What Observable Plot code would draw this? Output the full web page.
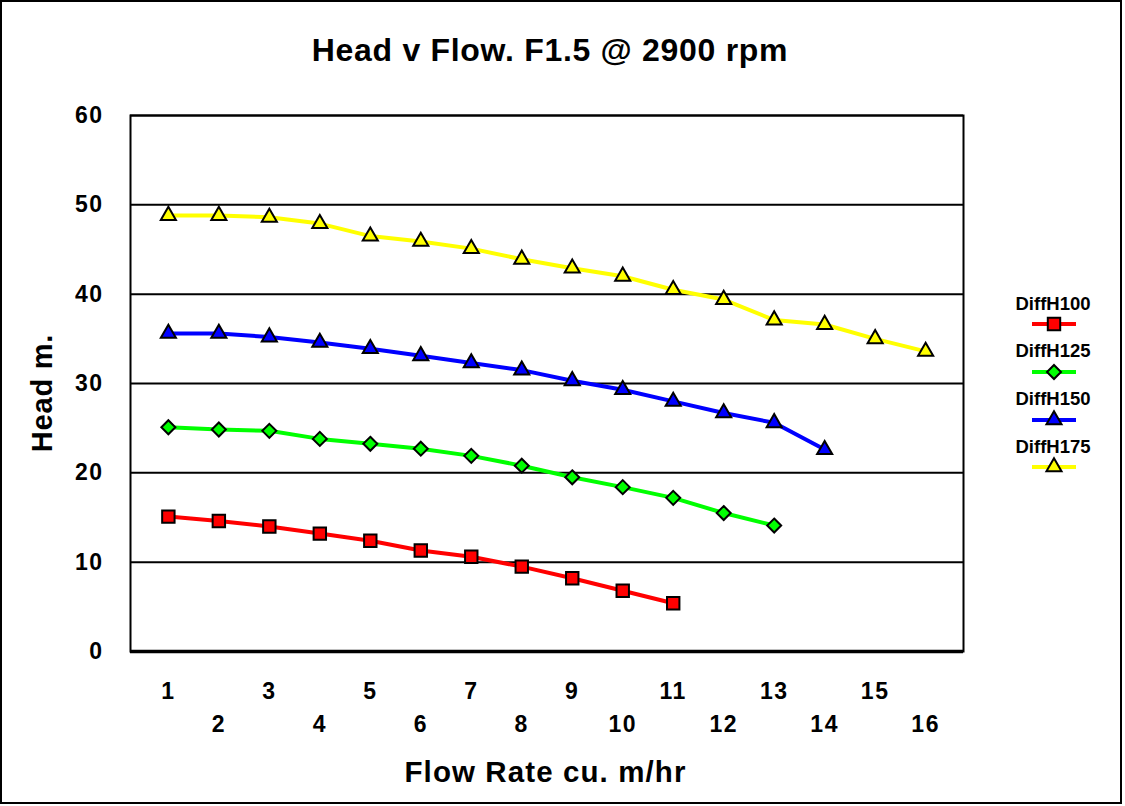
<!DOCTYPE html>
<html>
<head>
<meta charset="utf-8">
<script src="https://cdn.jsdelivr.net/npm/d3@7"></script>
<script src="https://cdn.jsdelivr.net/npm/@observablehq/plot@0.6"></script>
<style>
  html, body { margin: 0; padding: 0; background: #fff; }
  #wrap { position: relative; width: 1125px; height: 806px; overflow: hidden; font-family: "Liberation Sans", Arial, sans-serif; font-weight: bold; color: #000; }
  #border { position: absolute; left: 0; top: 0; width: 1122px; height: 804px; border: 2px solid #000; box-sizing: border-box; pointer-events: none; }
  #chart { position: absolute; left: 0; top: 0; }
  .lbl { position: absolute; white-space: nowrap; line-height: 1; }
  #title { left: 0; width: 1100px; text-align: center; top: 34px; font-size: 32px; letter-spacing: 0.7px; }
  #xtitle { left: 0; width: 1091px; text-align: center; top: 757px; font-size: 29.5px; letter-spacing: 1.1px; }
  #ytitle { left: 42px; top: 393px; font-size: 29px; letter-spacing: 0.8px; transform: translate(-50%, -50%) rotate(-90deg); }
  #legend { position: absolute; left: 998px; top: 0; width: 110px; }
  .legtext { position: absolute; width: 110px; text-align: center; font-size: 18.5px; }
  .legsvg { position: absolute; left: 0; }
</style>
</head>
<body>
<div id="wrap">
  <div id="chart"></div>
  <div id="title" class="lbl"></div>
  <div id="xtitle" class="lbl"></div>
  <div id="ytitle" class="lbl"></div>
  <div id="legend"></div>
  <div id="border"></div>
</div>
<script>
// ---------- data ----------
const titleText = "Head v Flow. F1.5 @ 2900 rpm";
const xTitle = "Flow Rate cu. m/hr";
const yTitle = "Head m.";
const categories = [1, 2, 3, 4, 5, 6, 7, 8, 9, 10, 11, 12, 13, 14, 15, 16];
const yTicks = [0, 10, 20, 30, 40, 50, 60];
const seriesNames = ["DiffH100", "DiffH125", "DiffH150", "DiffH175"];
const diffH100 = [15.1, 14.6, 14.0, 13.2, 12.4, 11.3, 10.6, 9.5, 8.2, 6.8, 5.4];
const diffH125 = [25.1, 24.85, 24.7, 23.8, 23.25, 22.7, 21.9, 20.8, 19.5, 18.4, 17.2, 15.5, 14.1];
const diffH150 = [35.6, 35.6, 35.2, 34.6, 33.9, 33.1, 32.3, 31.5, 30.3, 29.3, 28.0, 26.7, 25.6, 22.6];
const diffH175 = [48.8, 48.8, 48.6, 47.9, 46.5, 45.9, 45.1, 43.9, 42.9, 42.0, 40.5, 39.4, 37.1, 36.6, 35.0, 33.6];
const seriesValues = [diffH100, diffH125, diffH150, diffH175];
const seriesColors = ["#ff0000", "#00ff00", "#0000ff", "#ffff00"];
const seriesSymbols = ["square", "diamond2", "triangle", "triangle"];
const symbolRadius = [7, 6.3, 5.6, 5.6];

// ---------- build ----------
const rows = [];
seriesNames.forEach((s, i) => seriesValues[i].forEach((v, j) => rows.push({series: s, x: categories[j], y: v})));
const oddTicks = categories.filter(d => d % 2 === 1);
const evenTicks = categories.filter(d => d % 2 === 0);
const font = "'Liberation Sans', Arial, sans-serif";

const chart = Plot.plot({
  width: 1125,
  height: 806,
  marginTop: 115,
  marginBottom: 155,
  marginLeft: 130,
  marginRight: 162,
  style: {fontFamily: font, background: "transparent", overflow: "visible"},
  x: {type: "point", domain: categories, padding: 0.75, round: false, axis: null},
  y: {domain: [0, 60], axis: null},
  color: {domain: seriesNames, range: seriesColors},
  marks: [
    Plot.gridY(yTicks, {stroke: "#000", strokeOpacity: 1, strokeWidth: 2}),
    Plot.frame({stroke: "#000", strokeWidth: 2}),
    Plot.ruleY([0], {stroke: "#000", strokeWidth: 3.5}),
    Plot.axisY(yTicks, {tickSize: 0, tickPadding: 27, fontSize: 23, fontWeight: "bold", fill: "#000", label: null}),
    Plot.axisX(oddTicks, {tickSize: 0, tickPadding: 31, fontSize: 23, fontWeight: "bold", fill: "#000", label: null}),
    Plot.axisX(evenTicks, {tickSize: 0, tickPadding: 64, fontSize: 23, fontWeight: "bold", fill: "#000", label: null}),
    Plot.line(rows, {x: "x", y: "y", z: "series", stroke: "series", strokeWidth: 4}),
    ...seriesNames.map((s, i) => Plot.dot(rows.filter(d => d.series === s), {
      x: "x", y: "y", symbol: seriesSymbols[i], r: symbolRadius[i],
      fill: seriesColors[i], stroke: "#000", strokeWidth: 2
    }))
  ]
});
d3.select(chart).selectAll("text").style("letter-spacing", "1.5px");
document.getElementById("chart").appendChild(chart);

document.getElementById("title").textContent = titleText;
document.getElementById("xtitle").textContent = xTitle;
document.getElementById("ytitle").textContent = yTitle;

// legend
const symMap = {square: d3.symbolSquare, diamond2: d3.symbolDiamond2, triangle: d3.symbolTriangle};
const legend = d3.select("#legend");
seriesNames.forEach((s, i) => {
  const textCenter = 302.5 + i * 47.8;
  const sampleY = textCenter + 21.5;
  legend.append("div").attr("class", "legtext")
    .style("top", (textCenter - 10) + "px")
    .text(s);
  const svg = legend.append("svg").attr("class", "legsvg")
    .attr("width", 110).attr("height", 24)
    .style("top", (sampleY - 12) + "px");
  svg.append("line").attr("x1", 34).attr("x2", 78).attr("y1", 12).attr("y2", 12)
    .attr("stroke", seriesColors[i]).attr("stroke-width", 4);
  svg.append("path")
    .attr("transform", "translate(56,12)")
    .attr("d", d3.symbol(symMap[seriesSymbols[i]], Math.PI * symbolRadius[i] * symbolRadius[i])())
    .attr("fill", seriesColors[i]).attr("stroke", "#000").attr("stroke-width", 2);
});
</script>
</body>
</html>
